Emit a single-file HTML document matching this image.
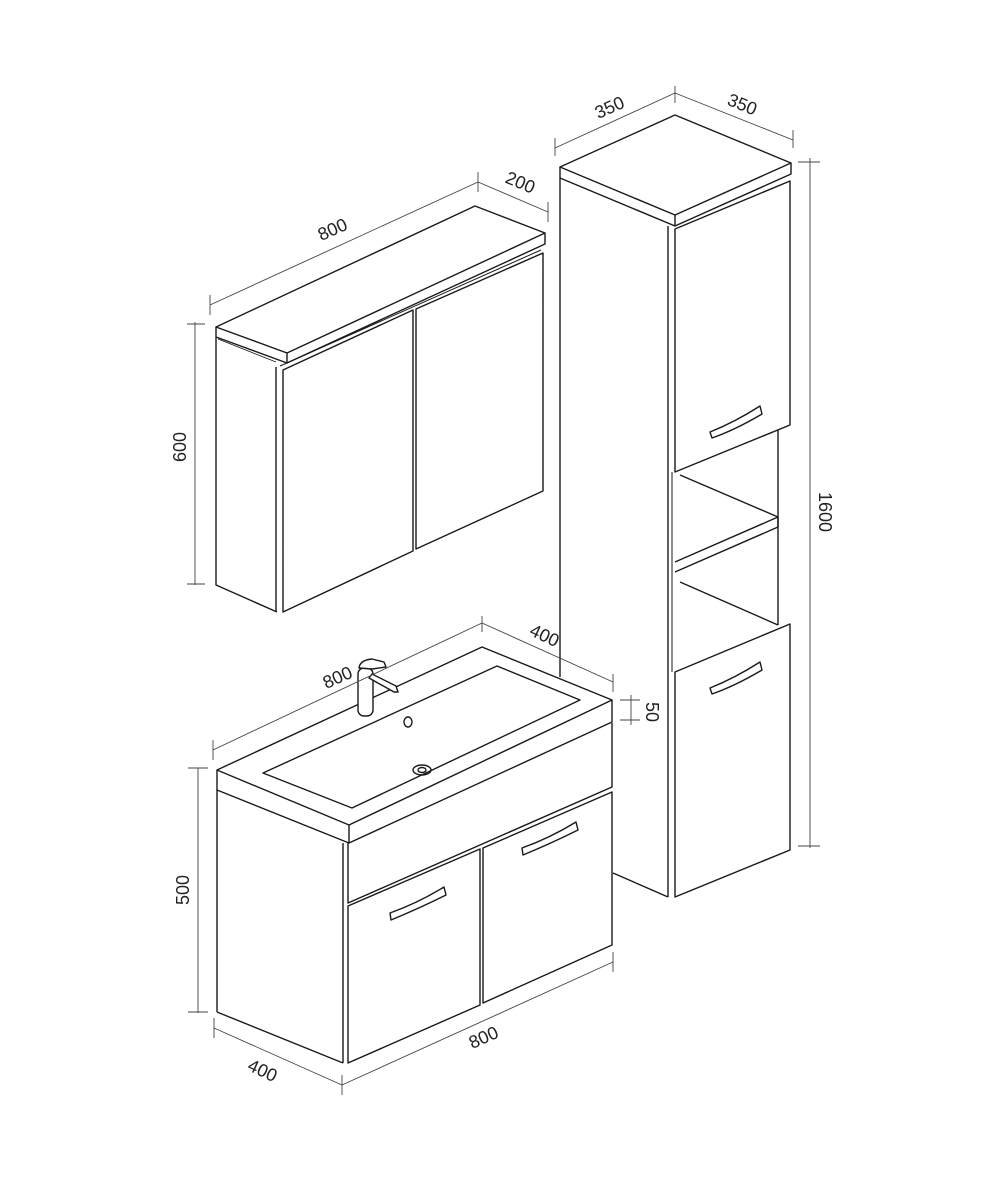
<!DOCTYPE html>
<html><head><meta charset="utf-8"><style>
html,body{margin:0;padding:0;background:#fff}
svg{display:block}
text{font-family:"Liberation Sans",sans-serif;font-size:18px;fill:#222}
</style></head><body>
<svg width="1000" height="1193" viewBox="0 0 1000 1193" xmlns="http://www.w3.org/2000/svg">
<g fill="none" stroke="#1a1a1a" stroke-width="1.4" stroke-linejoin="round">
<!-- Mirror cabinet -->
<polygon points="216,327 475,206 545,233 287,353"/>
<polyline points="216,327 216,337 287,363 545,244 545,233"/>
<line x1="287" y1="353" x2="287" y2="363"/>
<polyline points="216,337 216,585 277,612"/>
<line x1="276" y1="367" x2="276" y2="612"/>
<polygon points="283,370 413,310 413,551 283,612"/>
<polygon points="416,309 543,253 543,491 416,549"/>
<line x1="280" y1="366" x2="541" y2="250" stroke-width="1"/>
<line x1="218" y1="339" x2="276" y2="362" stroke-width="0.8"/>
<!-- Tall cabinet -->
<polygon points="560,167 675,115 791,163 675,215"/>
<polyline points="560,167 560,178 675,226 791,174 791,163"/>
<line x1="675" y1="215" x2="675" y2="226"/>
<line x1="560" y1="178" x2="560" y2="677"/>
<line x1="668" y1="226" x2="668" y2="897"/>
<line x1="613" y1="873" x2="668" y2="897"/>
<polygon points="675,229 790,181 790,425 675,472"/>
<line x1="778" y1="430" x2="778" y2="625"/>
<line x1="680" y1="475" x2="778" y2="517"/>
<polyline points="675,562 778,517 778,527 675,572"/>
<line x1="680" y1="582" x2="778" y2="625"/>
<polygon points="675,672 790,624 790,850 675,897"/>
<line x1="672" y1="472" x2="672" y2="672" stroke-width="1"/>
<path d="M710,432 L712,438 Q735,430 762,414 L760,406 Q735,422 710,432 Z"/>
<path d="M710,688 L712,694 Q735,686 762,670 L760,662 Q735,678 710,688 Z"/>
<!-- Vanity -->
<polygon points="217,770 482,647 612,700 349,825" fill="#fff"/>
<polyline points="217,770 217,790 349,843 612,722 612,700"/>
<line x1="349" y1="825" x2="349" y2="843"/>
<polygon points="263,773 497,666 580,700 352,808"/>
<line x1="217" y1="790" x2="217" y2="1012"/>
<line x1="217" y1="1012" x2="343" y2="1063"/>
<line x1="343" y1="843" x2="343" y2="1063"/>
<polyline points="348,843 348,903 612,787 612,723"/>
<polygon points="348,906 480,849 480,1005 348,1063"/>
<polygon points="483,848 612,792 612,945 483,1003"/>
<path d="M390,913 L391,920 Q420,908 446,895 L444,887 Q418,903 390,913 Z"/>
<path d="M522,848 L523,855 Q552,843 578,830 L576,822 Q550,838 522,848 Z"/>
<!-- faucet -->
<rect x="358" y="668" width="15" height="48" rx="6" fill="#fff"/>
<path d="M359,668 Q360,660 372,659 L384,662 L386,667 L372,669 Z" fill="#fff"/>
<path d="M369,678 L372,674 L396,686 L398,692 L394,692 Z" fill="#fff"/>
<ellipse cx="408" cy="722" rx="4" ry="5"/>
<ellipse cx="422" cy="770" rx="9" ry="5"/>
<ellipse cx="422" cy="770" rx="4" ry="2.5"/>
</g>
<g fill="none" stroke="#444" stroke-width="0.9">
<line x1="210" y1="305" x2="478" y2="182"/>
<line x1="210" y1="295" x2="210" y2="315"/><line x1="478" y1="172" x2="478" y2="192"/>
<line x1="478" y1="182" x2="548" y2="212"/><line x1="548" y1="202" x2="548" y2="222"/>
<line x1="195" y1="322" x2="195" y2="585"/><line x1="187" y1="324" x2="205" y2="324"/><line x1="187" y1="584" x2="205" y2="584"/>
<line x1="555" y1="148" x2="675" y2="93"/><line x1="555" y1="138" x2="555" y2="156"/><line x1="675" y1="86" x2="675" y2="103"/>
<line x1="675" y1="93" x2="793" y2="140"/><line x1="793" y1="130" x2="793" y2="148"/>
<line x1="810" y1="158" x2="810" y2="848"/><line x1="798" y1="162" x2="820" y2="162"/><line x1="798" y1="846" x2="820" y2="846"/>
<line x1="631" y1="695" x2="631" y2="725"/><line x1="620" y1="700" x2="640" y2="700"/><line x1="620" y1="720" x2="640" y2="720"/>
<line x1="213" y1="750" x2="482" y2="623"/><line x1="213" y1="740" x2="213" y2="760"/><line x1="482" y1="616" x2="482" y2="632"/>
<line x1="482" y1="623" x2="613" y2="682"/><line x1="613" y1="674" x2="613" y2="692"/>
<line x1="198" y1="768" x2="198" y2="1013"/><line x1="188" y1="768" x2="208" y2="768"/><line x1="188" y1="1012" x2="208" y2="1012"/>
<line x1="214" y1="1028" x2="342" y2="1085"/><line x1="214" y1="1018" x2="214" y2="1038"/><line x1="342" y1="1075" x2="342" y2="1095"/>
<line x1="342" y1="1085" x2="613" y2="962"/><line x1="613" y1="952" x2="613" y2="972"/>
</g>
<g>
<text transform="translate(335,235) rotate(-24)" text-anchor="middle">800</text>
<text transform="translate(518,188) rotate(23)" text-anchor="middle">200</text>
<text transform="translate(186,447) rotate(-90)" text-anchor="middle">600</text>
<text transform="translate(612,113) rotate(-24)" text-anchor="middle">350</text>
<text transform="translate(740,110) rotate(22)" text-anchor="middle">350</text>
<text transform="translate(819,512) rotate(90)" text-anchor="middle">1600</text>
<text transform="translate(646,712) rotate(90)" text-anchor="middle">50</text>
<text transform="translate(340,683) rotate(-24)" text-anchor="middle">800</text>
<text transform="translate(542,641) rotate(25)" text-anchor="middle">400</text>
<text transform="translate(189,890) rotate(-90)" text-anchor="middle">500</text>
<text transform="translate(260,1076) rotate(25)" text-anchor="middle">400</text>
<text transform="translate(486,1043) rotate(-24)" text-anchor="middle">800</text>
</g>
</svg>
</body></html>
